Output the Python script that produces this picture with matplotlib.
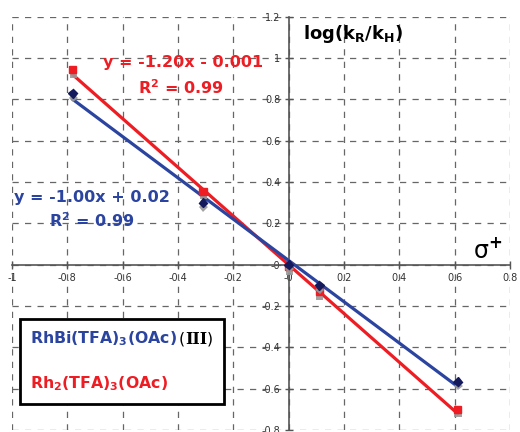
import numpy as np
import matplotlib
matplotlib.use("Agg")
import matplotlib.pyplot as plt
import matplotlib.patheffects as pe
from matplotlib.offsetbox import TextArea, HPacker, VPacker, AnchoredOffsetbox

plt.rcParams['font.family'] = ['DejaVu Sans']
plt.rcParams['mathtext.default'] = 'bf'

# sigma+ values of the substituents
sigma = [-0.78, -0.31, 0.0, 0.11, 0.61]
# log(kR/kH) for each catalyst
log_rhbi = [0.83, 0.30, 0.0, -0.10, -0.566]
log_rh2 = [0.945, 0.355, -0.01, -0.13, -0.70]

# fitted lines as reported on the chart
fit_rhbi = (-1.00, 0.02)
fit_rh2 = (-1.18, -0.001)

blue_line = '#2B44A0'
blue_dot = '#141A5C'
red = '#EE1D23'

fig = plt.figure(figsize=(5.2, 4.32), dpi=100)
ax = fig.add_axes([0.023, 0.005, 0.958, 0.956])
ax.set_xlim(-1, 0.8)
ax.set_ylim(-0.8, 1.2)

xs = np.array([min(sigma), max(sigma)])
ax.plot(xs, fit_rh2[0] * xs + fit_rh2[1], color=red, lw=2.3, zorder=3)
ax.plot(xs, fit_rhbi[0] * xs + fit_rhbi[1], color=blue_line, lw=2.3, zorder=3)

shadow = [pe.SimplePatchShadow(offset=(0.4, -3.2), shadow_rgbFace='#999999', alpha=0.9), pe.Normal()]
ax.plot(sigma, log_rh2, 's', color=red, ms=5.2, zorder=4, path_effects=shadow)
ax.plot(sigma, log_rhbi, 'D', color=blue_dot, ms=4.5, zorder=5, path_effects=shadow)

# axes through the origin
for s in ['top', 'right']:
    ax.spines[s].set_visible(False)
ax.spines['left'].set_position(('data', 0))
ax.spines['bottom'].set_position(('data', 0))
for s in ['left', 'bottom']:
    ax.spines[s].set_color('#555555')
    ax.spines[s].set_linewidth(1.2)

xt = np.round(np.arange(-1, 0.81, 0.2), 1)
yt = np.round(np.arange(-0.8, 1.21, 0.2), 1)
ax.set_xticks(xt)
ax.set_yticks(yt)
ax.set_xticklabels(['%g' % v for v in xt])
ax.set_yticklabels(['%g' % v for v in yt])
ax.tick_params(direction='inout', length=6, width=1, colors='#555555',
               labelsize=7, labelcolor='#333333', pad=3)
ax.grid(True, ls=(0, (5, 5)), color='#666666', lw=0.9)
ax.set_axisbelow(True)

ax.text(0.05, 1.115, r'log(k$_{R}$/k$_{H}$)', fontsize=13, fontweight='bold', ha='left', va='center')
ax.text(0.72, 0.07, r'$\mathrm{\sigma}^{+}$', fontsize=17, ha='center', va='center')

ax.text(-0.38, 0.977, 'y = -1.20x - 0.001', color=red, fontsize=11.5, fontweight='bold', ha='center', va='center')
ax.text(-0.39, 0.856, r'R$^{2}$ = 0.99', color=red, fontsize=11.5, fontweight='bold', ha='center', va='center')
ax.text(-0.71, 0.323, 'y = -1.00x + 0.02', color=blue_line, fontsize=11.5, fontweight='bold', ha='center', va='center')
ax.text(-0.71, 0.212, r'R$^{2}$ = 0.99', color=blue_line, fontsize=11.5, fontweight='bold', ha='center', va='center')

# legend box
fs = 11.3
row1 = HPacker(children=[
    TextArea(r'RhBi(TFA)$_{3}$(OAc) ', textprops=dict(color=blue_line, fontsize=fs, fontweight='bold')),
    TextArea('(', textprops=dict(color='black', fontsize=fs)),
    TextArea('III', textprops=dict(color='black', fontsize=fs, fontweight='bold', family='DejaVu Serif')),
    TextArea(')', textprops=dict(color='black', fontsize=fs)),
], align='baseline', pad=0, sep=0)
row2 = TextArea(r'Rh$_{2}$(TFA)$_{3}$(OAc)', textprops=dict(color=red, fontsize=fs, fontweight='bold'))
box = VPacker(children=[row1, row2], align='left', pad=0, sep=19)
anch = AnchoredOffsetbox(loc='lower left', child=box, pad=0.75, borderpad=0,
                         bbox_to_anchor=(0.016, 0.063), bbox_transform=ax.transAxes, frameon=True)
anch.patch.set_edgecolor('black')
anch.patch.set_linewidth(2)
anch.patch.set_boxstyle('square', pad=0)
ax.add_artist(anch)

fig.savefig('out.png', dpi=100)
